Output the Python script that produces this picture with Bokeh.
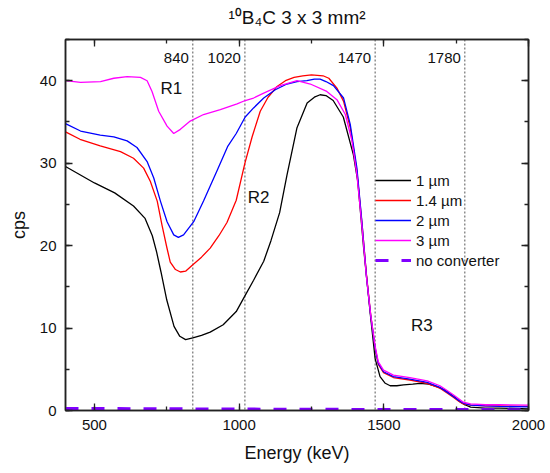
from bokeh.plotting import figure
from bokeh.models import (LinearAxis, SingleIntervalTicker, Range1d, Span, Label,
                          Legend, LegendItem, CustomJSTickFormatter)
from bokeh.embed import file_html
from bokeh.resources import INLINE

FONT = "Liberation Sans"

# ---------------- data ----------------
e_1um = [400, 450, 500, 570, 635, 675, 700, 715, 730, 750, 775, 795, 815, 840, 870, 900,
         945, 990, 1020, 1050, 1085, 1110, 1140, 1165, 1200, 1235, 1260, 1280, 1300, 1325,
         1360, 1395, 1410, 1430, 1453, 1470, 1487, 1505, 1522, 1545, 1568, 1600, 1625, 1655,
         1683, 1710, 1730, 1750, 1765, 1780, 1800, 1850, 1900, 2000]
c_1um = [29.6, 28.6, 27.6, 26.4, 24.8, 23.3, 21.2, 19.2, 16.8, 13.4, 10.2, 9.0, 8.6, 8.8, 9.1, 9.5,
         10.4, 12.0, 13.9, 15.8, 18.1, 20.6, 24.0, 28.5, 34.3, 37.3, 38.0, 38.3, 38.2, 37.6,
         35.6, 31.0, 27.8, 19.8, 11.8, 6.3, 4.1, 3.3, 3.0, 3.0, 3.1, 3.2, 3.3, 3.2,
         2.9, 2.5, 2.0, 1.5, 1.0, 0.7, 0.4, 0.3, 0.3, 0.2]

e_14um = [400, 450, 520, 590, 635, 670, 693, 717, 734, 750, 762, 780, 797, 815, 837, 870, 900,
          930, 958, 990, 1020, 1045, 1073, 1100, 1131, 1160, 1190, 1220, 1250, 1290, 1310, 1338,
          1361, 1384, 1407, 1424, 1440, 1455, 1470, 1481, 1499, 1533, 1590, 1650, 1694, 1720,
          1740, 1760, 1775, 1800, 1850, 1900, 2000]
c_14um = [33.8, 32.9, 32.1, 31.4, 30.6, 29.4, 27.8, 25.4, 22.4, 19.8, 18.0, 17.1, 16.8, 16.9, 17.6,
          18.6, 19.7, 21.2, 22.8, 25.5, 30.0, 33.2, 36.3, 38.0, 39.3, 40.0, 40.4, 40.6, 40.7, 40.6,
          40.3, 39.1, 37.5, 34.3, 29.0, 22.9, 16.5, 11.5, 7.5, 5.6, 4.6, 4.0, 3.7, 3.3, 2.7, 2.1,
          1.6, 1.1, 0.8, 0.65, 0.55, 0.55, 0.5]

e_2um = [400, 452, 520, 567, 613, 647, 682, 705, 728, 751, 774, 790, 808, 843, 877, 924, 960,
         990, 1021, 1050, 1085, 1125, 1165, 1200, 1234, 1260, 1280, 1300, 1326, 1361, 1384, 1407,
         1424, 1440, 1455, 1470, 1481, 1499, 1533, 1590, 1650, 1694, 1720, 1740, 1760, 1775,
         1800, 1850, 1900, 2000]
c_2um = [34.8, 33.9, 33.4, 33.2, 32.7, 31.9, 30.2, 28.2, 25.4, 22.9, 21.3, 21.0, 21.3, 22.9, 25.4,
         29.1, 32.0, 33.6, 35.6, 36.7, 37.9, 38.9, 39.6, 39.9, 40.0, 40.2, 40.2, 39.9, 39.4, 37.9,
         34.7, 29.4, 23.0, 16.3, 11.4, 7.6, 5.7, 4.7, 4.1, 3.8, 3.4, 2.8, 2.2, 1.7, 1.2, 0.9,
         0.65, 0.55, 0.5, 0.45]

e_3um = [400, 452, 521, 567, 613, 659, 682, 699, 722, 751, 774, 797, 831, 877, 935, 993, 1021,
         1050, 1085, 1142, 1200, 1246, 1303, 1338, 1367, 1390, 1407, 1424, 1440, 1455, 1470,
         1481, 1499, 1533, 1590, 1650, 1694, 1720, 1740, 1760, 1775, 1800, 1850, 1900, 2000]
c_3um = [40.0, 39.8, 39.9, 40.3, 40.5, 40.4, 40.0, 38.7, 36.3, 34.5, 33.6, 34.1, 35.1, 35.9, 36.5,
         37.2, 37.6, 37.9, 38.5, 39.4, 40.0, 39.6, 38.7, 37.7, 35.9, 32.7, 28.6, 22.5, 16.2, 11.5,
         7.8, 5.9, 4.9, 4.3, 4.0, 3.6, 3.0, 2.4, 1.9, 1.4, 1.0, 0.8, 0.7, 0.7, 0.65]

e_none = [400, 800, 1200, 1600, 2000]
c_none = [0.25, 0.2, 0.15, 0.12, 0.1]

boundaries = [840, 1020, 1470, 1780]
boundary_labels = ["840", "1020", "1470", "1780"]
regions = ["R1", "R2", "R3"]
region_x = [728, 1030, 1594]
region_y = [39.0, 25.8, 10.3]

series_names = ["1 µm", "1.4 µm", "2 µm", "3 µm", "no converter"]
series_colors = ["#000000", "#ff0000", "#0000ff", "#ff00ff", "#8000ff"]

title_text = "¹⁰B₄C 3 x 3 mm²"

# ---------------- figure ----------------
p = figure(width=550, height=473, output_backend="svg", toolbar_location=None,
           x_range=Range1d(400, 2000), y_range=Range1d(0, 45),
           min_border_left=65, min_border_right=22, min_border_top=39, min_border_bottom=63,
           background_fill_color="white", border_fill_color="white")
p.grid.visible = False
p.outline_line_color = "#222222"
p.outline_line_width = 1.5

AX = "#222222"
blank = CustomJSTickFormatter(code="return '';")


def style_axis(ax, ticker, labels=True):
    ax.ticker = ticker
    ax.major_tick_in = 7
    ax.major_tick_out = 0
    ax.minor_tick_in = 4
    ax.minor_tick_out = 0
    ax.axis_line_color = AX
    ax.axis_line_width = 1.5
    ax.major_tick_line_color = AX
    ax.major_tick_line_width = 1.3
    ax.minor_tick_line_color = AX
    ax.minor_tick_line_width = 1.3
    ax.major_label_text_font = FONT
    ax.major_label_text_color = "#111111"
    ax.major_label_text_font_size = "15px"
    ax.axis_label_text_font = FONT
    ax.axis_label_text_font_style = "normal"
    ax.axis_label_text_color = "#111111"
    ax.axis_label_text_font_size = "18px"
    if labels:
        ax.major_label_standoff = 9
    else:
        ax.formatter = blank
        ax.major_label_standoff = 0


style_axis(p.xaxis[0], SingleIntervalTicker(interval=500, num_minor_ticks=2))
p.xaxis[0].axis_label = "Energy (keV)"
p.xaxis[0].axis_label_standoff = 10
style_axis(p.yaxis[0], SingleIntervalTicker(interval=10, num_minor_ticks=2))
p.yaxis[0].axis_label = "cps"
p.yaxis[0].axis_label_standoff = 8

top = LinearAxis()
style_axis(top, SingleIntervalTicker(interval=500, num_minor_ticks=2), labels=False)
top.axis_label = title_text
top.axis_label_text_font_size = "19px"
top.axis_label_standoff = 12
p.add_layout(top, "above")

right = LinearAxis()
style_axis(right, SingleIntervalTicker(interval=10, num_minor_ticks=2), labels=False)
p.add_layout(right, "right")

# boundary lines and labels
for b, t in zip(boundaries, boundary_labels):
    p.add_layout(Span(location=b, dimension="height", line_color="#555555",
                      line_width=1, line_dash="2 2", level="underlay"))
    p.add_layout(Label(x=b, y=42.7, text=t, text_align="right", text_baseline="middle",
                       x_offset=-4, text_font=FONT, text_font_size="15px",
                       text_color="#111111"))

for r, rx, ry in zip(regions, region_x, region_y):
    p.add_layout(Label(x=rx, y=ry, text=r, text_align="left", text_baseline="middle",
                       text_font=FONT, text_font_size="17px", text_color="#111111"))

# curves
data = [(e_1um, c_1um), (e_14um, c_14um), (e_2um, c_2um), (e_3um, c_3um)]
renderers = []
for (ex, cy), col in zip(data, series_colors[:4]):
    renderers.append(p.line(ex, cy, line_color=col, line_width=1.3))
renderers.append(p.line(e_none, c_none, line_color=series_colors[4], line_width=3,
                        line_dash="13 13"))

legend = Legend(items=[LegendItem(label=n, renderers=[r]) for n, r in zip(series_names, renderers)],
                location=(310, 140), padding=0, margin=0, spacing=0,
                glyph_width=36, glyph_height=20, label_height=20, label_standoff=5,
                label_text_font=FONT, label_text_font_size="15px", label_text_color="#111111",
                background_fill_alpha=0, border_line_alpha=0)
p.add_layout(legend, "center")

open("out.html", "w").write(file_html(p, INLINE))
